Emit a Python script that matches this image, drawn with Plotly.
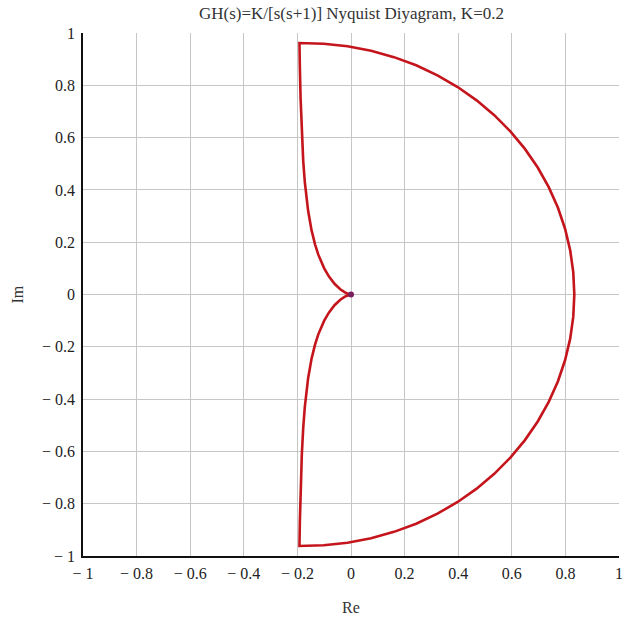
import plotly.graph_objects as go

# Lower branch, s = jw for w from 0.2 upward (Re, Im of GH)
branch_re = [-0.1923, -0.1908, -0.1882, -0.1835, -0.1782, -0.1724, -0.1600, -0.1471,
             -0.1342, -0.1220, -0.1000, -0.0820, -0.0615, -0.0400, -0.0200, -0.0077,
             -0.0020, 0.0]
branch_im = [-0.9615, -0.8671, -0.7529, -0.6116, -0.5091, -0.4310, -0.3200, -0.2451,
             -0.1917, -0.1524, -0.1000, -0.0683, -0.0410, -0.0200, -0.0067, -0.0015,
             -0.0002, 0.0]

# Large arc from the small indentation around s = 0, theta = 0 .. 90 deg in 5 deg steps
arc_re = [0.8333, 0.8294, 0.8179, 0.7987, 0.7719, 0.7378, 0.6968, 0.6490, 0.5947,
          0.5346, 0.4688, 0.3980, 0.3226, 0.2432, 0.1604, 0.0749, -0.0129, -0.1021,
          -0.1923]
arc_im = [0.0, -0.0847, -0.1688, -0.2516, -0.3324, -0.4105, -0.4856, -0.5568, -0.6237,
          -0.6857, -0.7424, -0.7933, -0.8381, -0.8764, -0.9077, -0.9322, -0.9493,
          -0.9591, -0.9615]

K = 0.2
ticks = [-1, -0.8, -0.6, -0.4, -0.2, 0, 0.2, 0.4, 0.6, 0.8, 1]
tick_text = ["\u2212 1", "\u2212 0.8", "\u2212 0.6", "\u2212 0.4", "\u2212 0.2",
             "0", "0.2", "0.4", "0.6", "0.8", "1"]

# Closed contour: origin -> upper branch -> arc (top to bottom) -> lower branch -> origin
upper_re = branch_re[::-1]
upper_im = [-v for v in branch_im[::-1]]
arc_full_re = [arc_re[i] for i in range(len(arc_re) - 1, 0, -1)] + arc_re
arc_full_im = [-arc_im[i] for i in range(len(arc_im) - 1, 0, -1)] + arc_im
xs = upper_re + arc_full_re + branch_re
ys = upper_im + arc_full_im + branch_im

serif = "Liberation Serif, Times New Roman, serif"

fig = go.Figure()
fig.add_trace(go.Scatter(x=xs, y=ys, mode="lines",
                         line=dict(color="#c4141c", width=2.6), hoverinfo="skip"))
fig.add_trace(go.Scatter(x=[0], y=[0], mode="markers",
                         marker=dict(color="#7a1f5c", size=6), hoverinfo="skip"))

axis_common = dict(
    tickvals=ticks, ticktext=tick_text, range=[-1, 1],
    showgrid=True, gridcolor="#c6c6c6", gridwidth=1,
    zeroline=False, showline=True, linecolor="#111111", linewidth=1.5,
    ticks="", tickfont=dict(family=serif, size=16, color="#222222"),
    fixedrange=True,
)

fig.update_layout(
    width=630, height=623,
    margin=dict(l=83, r=7, t=33, b=67),
    paper_bgcolor="white", plot_bgcolor="white",
    showlegend=False,
    xaxis=dict(axis_common, ticklabelstandoff=2),
    yaxis=dict(axis_common, ticklabelstandoff=3),
    annotations=[
        dict(text=f"GH(s)=K/[s(s+1)] Nyquist Diyagram, K={K}", xref="paper", yref="paper",
             x=0.5, y=1, yanchor="middle", yshift=20, showarrow=False,
             font=dict(family=serif, size=17, color="#333333")),
        dict(text="Re", xref="paper", yref="paper", x=0.5, y=0, yanchor="middle",
             yshift=-51, showarrow=False,
             font=dict(family=serif, size=16, color="#333333")),
        dict(text="Im", xref="paper", yref="paper", x=0, y=0.5, xanchor="center",
             xshift=-66, textangle=-90, showarrow=False,
             font=dict(family=serif, size=16, color="#333333")),
    ],
)

fig.write_html("out.html")
